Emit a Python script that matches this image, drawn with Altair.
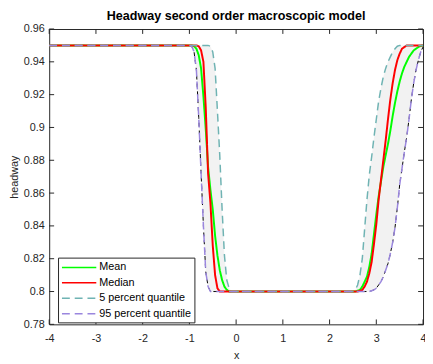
import altair as alt
import pandas as pd

# ---- data ----
x_grid = [-4.0, -1.0, -0.95, -0.9, -0.85, -0.8, -0.75, -0.7, -0.65, -0.6, -0.55,
          -0.5, -0.45, -0.4, -0.35, -0.3, -0.25, -0.2, -0.15, -0.1, -0.05, 0.0,
          2.4, 2.5, 2.55, 2.6, 2.65, 2.7, 2.75, 2.8, 2.85, 2.9, 2.95, 3.0, 3.05,
          3.1, 3.15, 3.2, 3.25, 3.3, 3.35, 3.4, 3.45, 3.5, 3.55, 3.6, 3.65, 3.7,
          3.75, 3.8, 3.85, 3.9, 3.95, 4.0]

mean_vals = [0.95, 0.95, 0.95, 0.9495, 0.948, 0.944, 0.936, 0.919, 0.899, 0.876, 0.862,
             0.850, 0.834, 0.822, 0.813, 0.807, 0.803, 0.801, 0.8, 0.8, 0.8, 0.8,
             0.8, 0.8, 0.8, 0.8005, 0.801, 0.803, 0.806, 0.809, 0.815, 0.823, 0.835,
             0.847, 0.858, 0.867, 0.876, 0.883, 0.890, 0.898, 0.907, 0.915, 0.922,
             0.928, 0.933, 0.937, 0.940, 0.943, 0.945, 0.947, 0.948, 0.949, 0.9497, 0.95]

median_vals = [0.95, 0.95, 0.95, 0.95, 0.95, 0.9495, 0.947, 0.940, 0.912, 0.872, 0.854,
               0.828, 0.810, 0.802, 0.8, 0.8, 0.8, 0.8, 0.8, 0.8, 0.8, 0.8,
               0.8, 0.8, 0.8, 0.8, 0.8005, 0.801, 0.803, 0.806, 0.811, 0.818, 0.829,
               0.841, 0.856, 0.868, 0.880, 0.892, 0.905, 0.917, 0.927, 0.935, 0.941,
               0.945, 0.948, 0.949, 0.95, 0.95, 0.95, 0.95, 0.95, 0.95, 0.95, 0.95]

q05_vals = [0.95, 0.95, 0.95, 0.95, 0.95, 0.95, 0.95, 0.95, 0.95, 0.95, 0.9495,
            0.946, 0.936, 0.910, 0.883, 0.850, 0.822, 0.807, 0.802, 0.8, 0.8, 0.8,
            0.8, 0.8, 0.801, 0.804, 0.810, 0.820, 0.838, 0.856, 0.871, 0.882, 0.894,
            0.905, 0.916, 0.924, 0.931, 0.936, 0.940, 0.943, 0.946, 0.948, 0.9495,
            0.95, 0.95, 0.95, 0.95, 0.95, 0.95, 0.95, 0.95, 0.95, 0.95, 0.95]

q95_vals = [0.95, 0.95, 0.9495, 0.946, 0.935, 0.906, 0.872, 0.840, 0.812, 0.803, 0.8,
            0.8, 0.8, 0.8, 0.8, 0.8, 0.8, 0.8, 0.8, 0.8, 0.8, 0.8,
            0.8, 0.8, 0.8, 0.8, 0.8, 0.8, 0.8, 0.8, 0.8, 0.8005, 0.801,
            0.802, 0.804, 0.806, 0.809, 0.813, 0.817, 0.823, 0.830, 0.839, 0.851,
            0.865, 0.875, 0.885, 0.894, 0.905, 0.917, 0.927, 0.935, 0.941, 0.946, 0.949]

series_names = ["Mean", "Median", "5 percent quantile", "95 percent quantile"]
series_colors = ["#00ff00", "#ff0000", "#6fb3b3", "#9a86de"]
series_dashes = [[1, 0], [1, 0], [8, 5], [8, 5]]
series_widths = [2, 2, 1.5, 1.5]

x_ticks = [-4, -3, -2, -1, 0, 1, 2, 3, 4]
y_ticks = [0.78, 0.8, 0.82, 0.84, 0.86, 0.88, 0.9, 0.92, 0.94, 0.96]

# ---- tables ----
wide = pd.DataFrame({"x": x_grid, "mean": mean_vals, "median": median_vals,
                     "q05": q05_vals, "q95": q95_vals})
long = pd.concat([pd.DataFrame({"x": x_grid, "value": v, "series": n})
                  for n, v in zip(series_names, [mean_vals, median_vals, q05_vals, q95_vals])],
                 ignore_index=True)
xt = pd.DataFrame({"t": x_ticks})
yt = pd.DataFrame({"t": y_ticks})

W, H = 381, 301
FONT = "Liberation Sans"
AX = "#262626"

xs = alt.Scale(domain=[-4, 4], nice=False, zero=False)
ys = alt.Scale(domain=[0.78, 0.96], nice=False, zero=False)

xaxis = alt.Axis(title="x", values=x_ticks, labelExpr="toString(datum.value)",
                 labelPadding=9, labelFlush=False, labelOverlap=False,
                 titleY=32, titleBaseline="middle")
yaxis = alt.Axis(title="headway", values=y_ticks, labelExpr="toString(datum.value)",
                 labelPadding=5, labelFlush=False, labelOverlap=False,
                 titleX=-35, titleY=H / 2, titleBaseline="middle", titleAlign="center")


def X(field):
    return alt.X(field, scale=xs, axis=xaxis)


def Y(field):
    return alt.Y(field, scale=ys, axis=yaxis)


leg = alt.Legend(title=None, orient="none", legendX=9, legendY=233,
                 symbolType="M-1,0L4.83,0", symbolSize=144, symbolStrokeWidth=1.5,
                 labelOffset=25, padding=3, rowPadding=3.7,
                 strokeColor=AX, fillColor="white", labelFontSize=11,
                 labelFont=FONT, labelColor="black", cornerRadius=0)

color = alt.Color("series:N", scale=alt.Scale(domain=series_names, range=series_colors),
                  sort=series_names, legend=leg)
dash = alt.StrokeDash("series:N", scale=alt.Scale(domain=series_names, range=series_dashes),
                      sort=series_names, legend=leg)

area = alt.Chart(wide).mark_area(color="#f2f2f2").encode(
    x=X("x:Q"), y=Y("q95:Q"), y2="q05:Q")

black = alt.Chart(wide).mark_line(color="#000000", strokeWidth=1, strokeDash=[4, 4]).encode(
    x=X("x:Q"), y=Y("q95:Q"))

line_layers = []
for name, w in zip(series_names, series_widths):
    line_layers.append(
        alt.Chart(long).transform_filter(alt.datum.series == name)
        .mark_line(strokeWidth=w)
        .encode(x=X("x:Q"), y=Y("value:Q"), color=color, strokeDash=dash)
    )

tick_b = alt.Chart(xt).mark_rule(color=AX, strokeWidth=1).encode(
    x=X("t:Q"), y=alt.value(H), y2=alt.value(H - 5))
tick_t = alt.Chart(xt).mark_rule(color=AX, strokeWidth=1).encode(
    x=X("t:Q"), y=alt.value(0), y2=alt.value(5))
tick_l = alt.Chart(yt).mark_rule(color=AX, strokeWidth=1).encode(
    y=Y("t:Q"), x=alt.value(0), x2=alt.value(5))
tick_r = alt.Chart(yt).mark_rule(color=AX, strokeWidth=1).encode(
    y=Y("t:Q"), x=alt.value(W), x2=alt.value(W - 5))

chart = alt.layer(area, black, *line_layers, tick_b, tick_t, tick_l, tick_r).properties(
    width=W, height=H,
    title=alt.TitleParams("Headway second order macroscopic model", fontSize=12.8, font=FONT,
                          fontWeight="bold", color="black", offset=0, anchor="middle"),
    autosize=alt.AutoSizeParams(type="none"),
    padding={"left": 42, "top": 18, "right": 2, "bottom": 37},
).configure_view(stroke=AX, strokeWidth=1).configure_axis(
    domain=False, ticks=False, grid=False,
    labelFont=FONT, labelFontSize=11, labelColor=AX,
    titleFont=FONT, titleFontSize=11, titleFontWeight="normal", titleColor=AX,
)

chart.save("out.html", embed_options={"renderer": "svg", "actions": False})
